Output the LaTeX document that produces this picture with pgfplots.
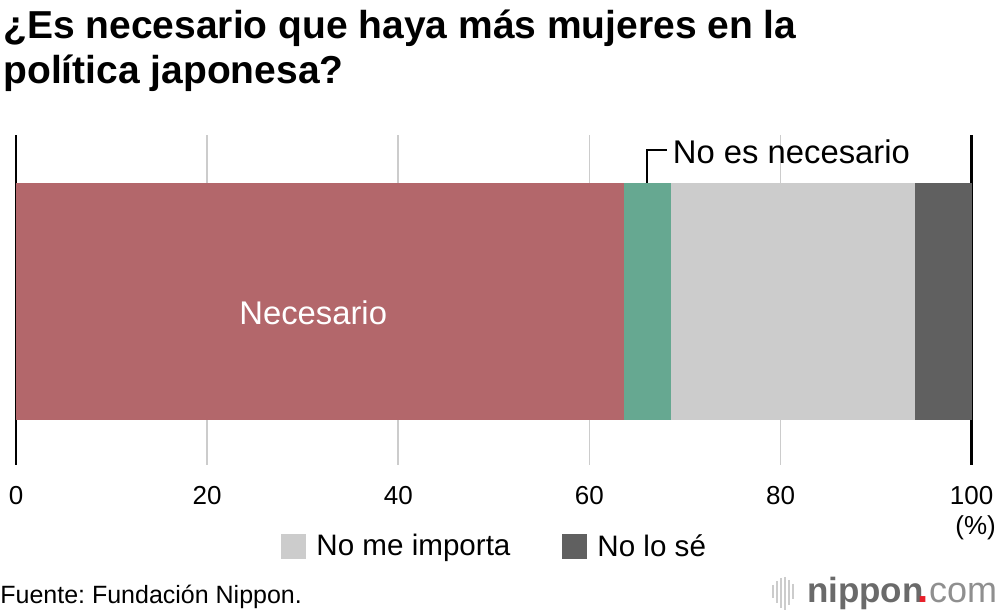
\documentclass[border=0pt]{standalone}
\usepackage{pgfplots}
\pgfplotsset{compat=1.18}
\usepackage{fontspec}
\setmainfont{Liberation Sans}
\frenchspacing
\definecolor{cRed}{HTML}{B3676B}
\definecolor{cGreen}{HTML}{66A891}
\definecolor{cLight}{HTML}{CCCCCC}
\definecolor{cDark}{HTML}{606060}
\definecolor{cGrid}{HTML}{CCCCCC}
\definecolor{cLogo}{HTML}{6A6A6A}
\definecolor{cLogoRed}{HTML}{E8202A}
\begin{document}
\begin{tikzpicture}
\begin{axis}[
  at={(8pt,-232.5pt)}, anchor=south west,
  scale only axis, width=478pt, height=165pt,
  xmin=0, xmax=100, ymin=0, ymax=1,
  xbar stacked, bar width=118.5pt,
  axis line style={draw=none},
  ytick=\empty,
  xtick={0,20,40,60,80,100},
  major tick length=0pt,
  xmajorgrids,
  grid style={color=cGrid, line width=0.8pt},
  xticklabel style={font=\fontsize{13}{13}\selectfont, yshift=-7pt},
  /pgf/number format/assume math mode=true,
  clip=false,
  legend columns=2,
  legend style={draw=none, fill=none, at={(0.502,-0.248)}, anchor=center,
    font=\fontsize{14.8}{14.8}\selectfont,
    /tikz/every odd column/.append style={column sep=3pt},
    /tikz/every even column/.append style={column sep=24pt}},
  legend image code/.code={\fill[#1,draw=none] (0pt,-6.25pt) rectangle (12.5pt,6.25pt);},
]
\addplot[fill=cRed, draw=none, forget plot] coordinates {(63.6,0.4955)};
\addplot[fill=cGreen, draw=none, forget plot] coordinates {(4.9,0.4955)};
\addplot[fill=cLight, draw=none] coordinates {(25.6,0.4955)};
\addlegendentry{No me importa}
\addplot[fill=cDark, draw=none] coordinates {(5.9,0.4955)};
\addlegendentry{No lo sé}
\draw[black, line width=1.2pt] (axis cs:0,0) -- (axis cs:0,1);
\draw[black, line width=1.2pt] (axis cs:100,0) -- (axis cs:100,1);
\coordinate (nec) at (axis cs:31.1,0.425);
\draw[black, line width=1pt] (axis cs:66.0,0.855) |- (axis cs:68.1,0.9545);
\node[anchor=base west, font=\fontsize{16.4}{16.4}\selectfont, inner sep=0] at (axis cs:68.7,0.912) {No es necesario};
\end{axis}
\node[anchor=base, text=white, font=\fontsize{16.4}{16.4}\selectfont, inner sep=0] at (nec) {Necesario};
\begin{scope}[x=0.5pt,y=-0.5pt]
\path[use as bounding box] (0,0) rectangle (1000,616);
% title
\node[anchor=base west,inner sep=0,font=\fontsize{19.5}{23}\selectfont\bfseries] at (3,39) {¿Es necesario que haya más mujeres en la};
\node[anchor=base west,inner sep=0,font=\fontsize{19.5}{23}\selectfont\bfseries] at (3,84) {política japonesa?};
\node[font=\fontsize{13}{13}\selectfont] at (976,528) {(\%)};
% source
\node[anchor=base west,inner sep=0,font=\fontsize{12.5}{12.5}\selectfont] at (0,604) {Fuente: Fundación Nippon.};
% logo
\foreach \xx/\ya/\yb in {773/585/598,777/581/603,781/578/608,785/577/610,789/580/605,793/584/599}{
  \draw[cLight, line width=1.2pt] (\xx,\ya) -- (\xx,\yb);
}
\node[anchor=base west,inner sep=0,font=\fontsize{17.5}{17.5}\selectfont\bfseries,text=cLogo] at (807,603) {nippon};
\node[anchor=base west,inner sep=0,font=\fontsize{20}{20}\selectfont\bfseries,text=cLogoRed] at (917,603) {.};
\node[anchor=base west,inner sep=0,font=\fontsize{18}{18}\selectfont,text=cLogo!75] at (929,603) {com};
\end{scope}
\end{tikzpicture}
\end{document}
